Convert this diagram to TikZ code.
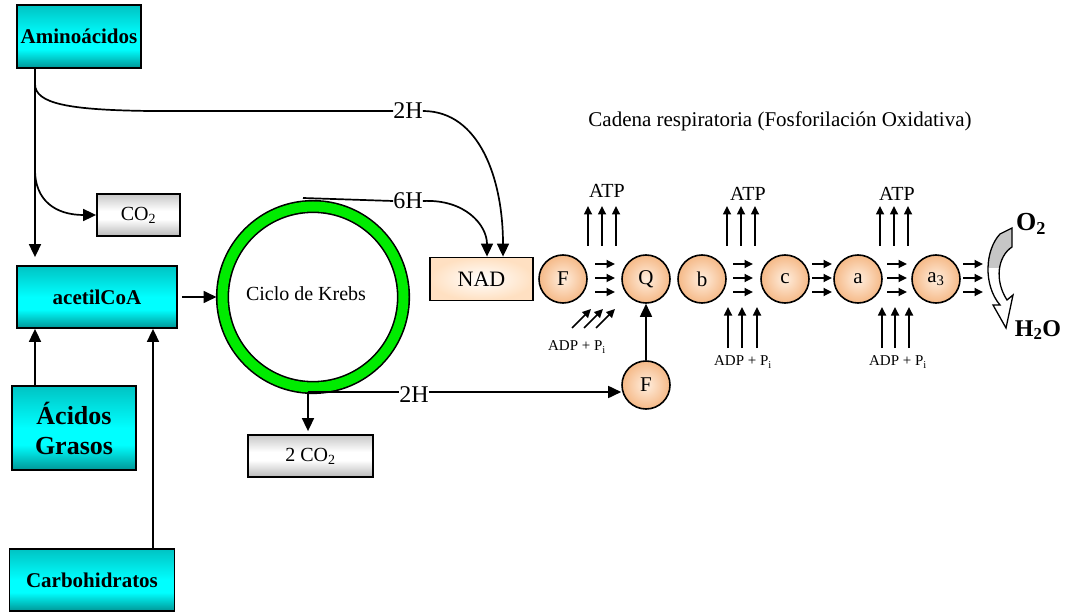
\documentclass[tikz,border=0pt]{standalone}
\usepackage{fontspec}
\setmainfont{Liberation Serif}
\usetikzlibrary{arrows.meta, calc}
\definecolor{TealTop}{RGB}{0, 195, 195}
\definecolor{TealDark}{RGB}{0, 150, 150}
\definecolor{CyanBright}{RGB}{0, 255, 255}
\definecolor{GrayEdge}{RGB}{185, 185, 185}
\definecolor{KrebsGreen}{RGB}{0, 235, 0}
\definecolor{PeachOuter}{RGB}{245, 185, 135}
\definecolor{PeachInner}{RGB}{255, 238, 222}
\pgfdeclareverticalshading{cyanbox}{100bp}{color(0bp)=(TealDark); color(25bp)=(TealDark); color(40bp)=(CyanBright); color(50bp)=(CyanBright); color(75bp)=(TealTop); color(100bp)=(TealTop)}
\pgfdeclareverticalshading{graybox}{100bp}{color(0bp)=(GrayEdge); color(25bp)=(GrayEdge); color(45bp)=(white); color(55bp)=(white); color(75bp)=(GrayEdge!80); color(100bp)=(GrayEdge!80)}
\newcommand{\fs}[1]{\fontsize{#1}{#1}\selectfont}
\newcommand{\oxyshape}{(1000,234) -- (1012,228) -- (1012,247) .. controls (998,256) and (994,280) .. (1007,300) -- (1013,295) -- (1006,328) -- (993,305) -- (1000,305) .. controls (983,285) and (985,250) .. (1000,234) -- cycle}

\begin{document}
\begin{tikzpicture}[x=1pt, y=-1pt,
    metab/.style={draw, line width=1.8pt, shading=cyanbox, inner sep=0, font=\bfseries\fs{21}},
    gasbox/.style={draw, line width=1.8pt, shading=graybox, inner sep=0, font=\fs{20}},
    carrier/.style={circle, draw, line width=1.6pt, minimum size=48pt, inner sep=0, shading=radial, inner color=PeachInner, outer color=PeachOuter, font=\fs{21}},
    hlab/.style={inner sep=0, font=\fs{24}},
    arrow/.style={-{Triangle[length=13pt, width=12pt]}, line width=1.7pt},
    small/.style={-{Triangle[length=8.5pt, width=8pt]}, line width=1.7pt}
  ]
    \useasboundingbox (0,0) rectangle (1068,612);

    % Metabolites
    \node[metab, minimum width=124pt, minimum height=63pt] (amino) at (79,36.5) {Aminoácidos};
    \node[metab, minimum width=160pt, minimum height=62pt] (acetil) at (97,297) {acetilCoA};
    \node[metab, minimum width=124pt, minimum height=84pt, align=center, font=\bfseries\fontsize{26}{30}\selectfont] (grasos) at (74,428) {Ácidos\\Grasos};
    \node[metab, minimum width=165pt, minimum height=62pt] (carbo) at (92,580) {Carbohidratos};

    % Products
    \node[gasbox, minimum width=83pt, minimum height=42pt] (co2) at (138.5,215) {CO\textsubscript{2}};
    \node[gasbox, minimum width=125pt, minimum height=42pt] (co2b) at (310.5,456) {2 CO\textsubscript{2}};

    % Krebs cycle
    \node[circle, draw, line width=1.6pt, double=KrebsGreen, double distance=10pt, minimum size=181pt, outer sep=6pt, font=\fs{20}] (krebs) at (313,297) {\raisebox{7pt}{Ciclo de Krebs\hspace{14pt}}};

    % Hydrogen labels
    \node[hlab] (h2top) at (408,111) {2H};
    \node[hlab] (h6) at (408,201) {6H};
    \node[hlab] (h2bot) at (414,395) {2H};

    % Respiratory chain
    \node[font=\fs{21}] (title) at (780,121) {Cadena respiratoria (Fosforilación Oxidativa)};
    \node[draw, line width=1.8pt, minimum width=103pt, minimum height=43pt, inner sep=0, shading=radial, inner color=white, outer color=orange!24, font=\fs{22}] (nad) at (481.5,279) {NAD};
    \node[carrier] (f1) at (563,279) {F};
    \node[carrier] (q) at (646,279) {Q};
    \node[carrier] (b) at (702,279) {b};
    \node[carrier] (c) at (785,279) {c};
    \node[carrier] (a) at (858,279) {a};
    \node[carrier] (a3) at (936,279) {a\textsubscript{3}};
    \node[carrier] (f2) at (646,385) {F};

    \node[inner sep=0, font=\fs{20}] (atp1) at (607,191) {ATP};
    \node[inner sep=0, font=\fs{20}] (atp2) at (748,194) {ATP};
    \node[inner sep=0, font=\fs{20}] (atp3) at (897,194) {ATP};
    \node[inner sep=0, font=\fs{15}] (adp1) at (577,347) {ADP + P\textsubscript{i}};
    \node[inner sep=0, font=\fs{15}] (adp2) at (743,362) {ADP + P\textsubscript{i}};
    \node[inner sep=0, font=\fs{15}] (adp3) at (898,362) {ADP + P\textsubscript{i}};

    \node[inner sep=0, font=\bfseries\fs{26}] (o2) at (1031,224) {O\textsubscript{2}};
    \node[inner sep=0, font=\bfseries\fs{24}] (h2o) at (1038,330) {H\textsubscript{2}O};

    % Helper coordinates
    \coordinate (trunk) at (35,0);
    \coordinate (carbL) at (153,0);
    \coordinate (bendTop) at (35,84);
    \coordinate (bendCO) at (35,170);
    \coordinate (krebsTop) at (303,198);
    \coordinate (kout) at (308,392);
    \coordinate (nadA) at (487,0);
    \coordinate (nadB) at (503,0);

    % Feeding acetilCoA
    \draw[arrow, shorten >=8pt] (amino.south -| trunk) -- (acetil.north -| trunk);
    \draw[arrow] (grasos.north -| trunk) -- (acetil.south -| trunk);
    \draw[arrow] (carbo.north -| carbL) -- (acetil.south -| carbL);
    \draw[arrow] (bendCO) .. controls (35,200) and (55,215) .. (co2.west);
    \draw[arrow, shorten <=4pt] (acetil.east) -- (krebs.west);

    % Hydrogen transfers
    \draw[line width=1.7pt] (bendTop) .. controls (35,104) and (70,110) .. (150,111) -- (h2top.west);
    \draw[arrow] (h2top.east) .. controls (480,111) and (503,180) .. (nad.north -| nadB);
    \draw[line width=1.7pt] (krebsTop) -- (h6.west);
    \draw[arrow] (h6.east) .. controls (465,199) and (487,225) .. (nad.north -| nadA);
    \draw[line width=1.7pt] (kout) -- (h2bot.west |- kout);
    \draw[arrow] (h2bot.east |- kout) -- (kout -| f2.west);
    \draw[arrow, shorten >=3pt] (kout) -- (co2b.north -| kout);
    \draw[arrow] (f2.north) -- (q.south);

    % Electron flow
    \foreach \x in {595,733,812,887,963}
      \foreach \y in {264,278,292}
        \draw[small] (\x,\y) -- ++(20,0);

    % ATP synthesis
    \foreach \x in {588,602,616,727,741,755,880,894,908}
      \draw[small] (\x,246) -- (\x,206);
    \foreach \x in {728,742,757,882,895,909}
      \draw[small] (\x,348) -- (\x,307);
    \foreach \x in {572,584,596}
      \draw[small] (\x,328) -- ++(19,-19);

    % Oxygen to water
    \begin{scope}
      \clip (975,220) rectangle (1020,268);
      \fill[gray!45] \oxyshape;
    \end{scope}
    \draw[line width=1.3pt] \oxyshape;
  \end{tikzpicture}
\end{document}
